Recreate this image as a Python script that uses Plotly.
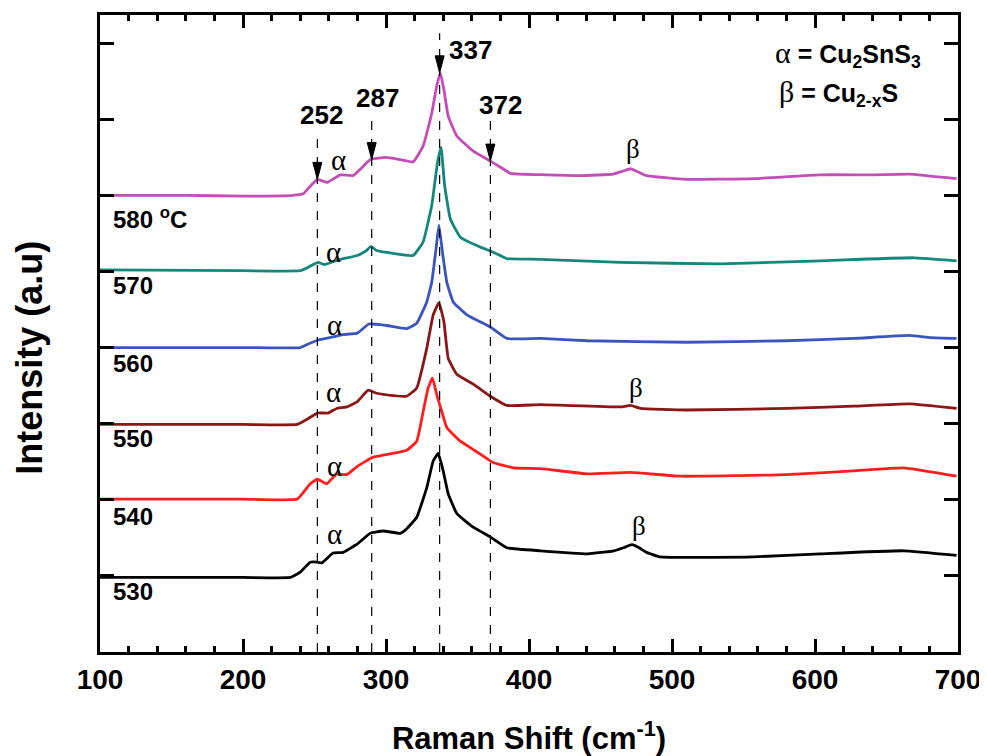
import plotly.graph_objects as go

# ---------------- data ----------------
x_530 = [100, 200, 233, 240, 247, 252, 255, 263, 270, 280, 289, 298, 310, 314.5, 321.5, 328.5, 333, 336.5, 340, 343.5,
         349.5, 361, 373, 384.5, 408, 441, 459.5, 466, 472, 477, 482, 491.5, 557, 604, 662, 699]
y_530 = [0.98, 0.98, 0.98, 1.05, 1.18, 1.18, 1.17, 1.30, 1.31, 1.42, 1.56, 1.59, 1.56, 1.62, 1.77, 2.16, 2.51, 2.61, 2.38, 2.08,
         1.82, 1.64, 1.51, 1.37, 1.33, 1.29, 1.33, 1.37, 1.41, 1.37, 1.31, 1.25, 1.25, 1.29, 1.33, 1.27]

x_540 = [100, 200, 238, 247, 252, 258.5, 265.5, 272.5, 280, 291, 307.5, 314.5, 321.5, 326, 329.5, 332.5, 335.5, 339, 342.5,
         352, 366, 375, 389, 408, 441, 471, 506, 580, 627, 662, 699]
y_540 = [2.01, 2.01, 2.01, 2.21, 2.27, 2.21, 2.34, 2.33, 2.44, 2.56, 2.62, 2.65, 2.77, 3.16, 3.47, 3.60, 3.38, 3.16, 2.95,
         2.77, 2.60, 2.49, 2.42, 2.41, 2.34, 2.36, 2.31, 2.33, 2.38, 2.42, 2.31]

x_550 = [100, 200, 238, 245, 252, 259.5, 265.5, 272.5, 280, 287.5, 293.5, 305, 314.5, 321.5, 328.5, 333, 337, 340.5, 343.5,
         349.5, 361, 373, 384.5, 408, 465, 471, 478, 510, 580, 627, 666, 699]
y_550 = [2.99, 2.99, 2.99, 3.06, 3.14, 3.14, 3.20, 3.22, 3.29, 3.44, 3.40, 3.37, 3.36, 3.47, 3.99, 4.43, 4.59, 4.34, 3.86,
         3.65, 3.52, 3.36, 3.24, 3.25, 3.22, 3.24, 3.20, 3.18, 3.20, 3.23, 3.26, 3.20]

x_560 = [100, 200, 240, 246, 252.5, 258, 270, 280, 288, 300.5, 314.5, 321.5, 328.5, 332, 335, 337, 339.5, 342.5, 347,
         356.5, 373, 384.5, 408, 441, 510, 580, 627, 666, 681, 699]
y_560 = [4.00, 4.00, 4.00, 4.05, 4.10, 4.12, 4.17, 4.19, 4.31, 4.29, 4.25, 4.32, 4.60, 4.86, 5.30, 5.61, 5.25, 4.86, 4.60,
         4.43, 4.27, 4.12, 4.12, 4.09, 4.07, 4.09, 4.12, 4.16, 4.13, 4.12]

x_570 = [100, 200, 240, 246, 252.5, 257, 268, 280, 286, 289.5, 293, 300.5, 319, 326, 332, 336, 338.5, 341, 345,
         352, 366, 373, 384.5, 408, 464, 534, 604, 669, 699]
y_570 = [5.02, 5.01, 5.01, 5.06, 5.12, 5.09, 5.16, 5.21, 5.27, 5.33, 5.28, 5.25, 5.21, 5.39, 5.87, 6.43, 6.63, 6.13, 5.69,
         5.45, 5.32, 5.27, 5.17, 5.16, 5.12, 5.10, 5.14, 5.18, 5.14]

x_580 = [100, 160, 200, 235, 242, 248, 252, 259, 268, 277, 283, 289, 300, 310, 319, 326, 332, 335.5, 338, 340.5, 343.5,
         349.5, 361, 373, 380, 387, 412, 436, 459, 466, 471, 476, 482, 510, 557, 603, 640, 666, 699]
y_580 = [6.00, 6.00, 5.99, 6.00, 6.02, 6.14, 6.21, 6.17, 6.27, 6.26, 6.36, 6.47, 6.50, 6.47, 6.44, 6.65, 7.08, 7.44, 7.61, 7.39, 7.04,
         6.78, 6.58, 6.45, 6.37, 6.29, 6.27, 6.26, 6.28, 6.32, 6.35, 6.31, 6.26, 6.21, 6.22, 6.27, 6.27, 6.28, 6.22]

series = [
    ("530", x_530, y_530, "#000000"),
    ("540", x_540, y_540, "#FF1E1E"),
    ("550", x_550, y_550, "#8B1616"),
    ("560", x_560, y_560, "#3A55C0"),
    ("570", x_570, y_570, "#14877D"),
    ("580 <sup>o</sup>C", x_580, y_580, "#C44DB8"),
]
temp_label_y = [0.80, 1.78, 2.80, 3.79, 4.82, 5.70]

# peak markers
peak_labels = ["252", "287", "337", "372"]
peak_x = [252, 290, 337.5, 373]
peak_tip_y = [6.21, 6.47, 7.61, 6.45]
peak_line_top = [6.80, 7.02, 8.13, 6.99]
peak_label_x = [255, 294, 359, 380]
peak_label_y = [7.06, 7.28, 7.91, 7.19]

alpha_x = [264, 264, 263, 264, 263, 266.5]
alpha_y = [1.55, 2.44, 3.41, 4.30, 5.25, 6.46]
beta_x = [477, 474.8, 472.7]
beta_y = [1.66, 3.47, 6.61]

x_ticks = [100, 200, 300, 400, 500, 600, 700]

SANS = "Liberation Sans, Arial, sans-serif"
SERIF = "Liberation Serif, Times New Roman, serif"

fig = go.Figure()
for name, xs, ys, col in series:
    fig.add_trace(go.Scatter(x=xs, y=ys, mode="lines", name=name,
                             line=dict(color=col, width=2.8, shape="spline", smoothing=0.35),
                             showlegend=False, hoverinfo="skip"))

annotations = []
shapes = []

# temperature labels
for (name, _, _, _), ty in zip(series, temp_label_y):
    annotations.append(dict(x=108, y=ty, xref="x", yref="y", text=name, showarrow=False,
                            xanchor="left", yanchor="middle",
                            font=dict(family=SANS, size=24, color="black", weight="bold")))

# dashed guide lines, arrowheads and labels
for lab, px_, tip, top, lx, ly in zip(peak_labels, peak_x, peak_tip_y, peak_line_top, peak_label_x, peak_label_y):
    shapes.append(dict(type="line", xref="x", yref="y", x0=px_, x1=px_, y0=0, y1=top,
                       line=dict(color="black", width=1.2, dash="dash"), layer="above"))
    shapes.append(dict(type="path", xref="x", yref="y", xsizemode="pixel", ysizemode="pixel",
                       xanchor=px_, yanchor=tip, path="M0,0 L-4.5,17 L4.5,17 Z",
                       fillcolor="black", line=dict(color="black", width=1), layer="above"))
    annotations.append(dict(x=lx, y=ly, xref="x", yref="y", text=lab, showarrow=False,
                            xanchor="center", yanchor="middle",
                            font=dict(family=SANS, size=26, color="black", weight="bold")))

for ax_, ay_ in zip(alpha_x, alpha_y):
    annotations.append(dict(x=ax_, y=ay_, xref="x", yref="y", text="α", showarrow=False,
                            font=dict(family=SERIF, size=29, color="black")))
for bx_, by_ in zip(beta_x, beta_y):
    annotations.append(dict(x=bx_, y=by_, xref="x", yref="y", text="β", showarrow=False,
                            font=dict(family=SERIF, size=27, color="black")))

# phase key
annotations.append(dict(x=0.784, y=0.938, xref="paper", yref="paper", xanchor="left", yanchor="middle",
                        showarrow=False,
                        text='<span style="font-family:Liberation Serif;font-weight:normal;font-size:30px">α</span> = Cu<sub>2</sub>SnS<sub>3</sub>',
                        font=dict(family=SANS, size=25, color="black", weight="bold")))
annotations.append(dict(x=0.789, y=0.878, xref="paper", yref="paper", xanchor="left", yanchor="middle",
                        showarrow=False,
                        text='<span style="font-family:Liberation Serif;font-weight:normal;font-size:30px">β</span> = Cu<sub>2-x</sub>S',
                        font=dict(family=SANS, size=25, color="black", weight="bold")))

# y axis title
annotations.append(dict(x=-0.0816, y=0.462, xref="paper", yref="paper", showarrow=False,
                        xanchor="center", yanchor="middle",
                        text="Intensity (a.u)", textangle=-90,
                        font=dict(family=SANS, size=36, color="black", weight="bold")))

# page body has an 8 px margin: shrink the figure and its margins by 8 px
fig.update_layout(
    width=979, height=748,
    margin=dict(l=92, r=29, t=4, b=104),
    paper_bgcolor="white", plot_bgcolor="white",
    annotations=annotations, shapes=shapes,
    xaxis=dict(range=[100, 700], tickvals=x_ticks, ticktext=[str(v) for v in x_ticks],
               ticks="inside", ticklen=13, tickwidth=3, tickcolor="black",
               minor=dict(dtick=20, tick0=100, ticks="inside", ticklen=6, tickwidth=2.5, tickcolor="black"),
               showline=True, linewidth=3, linecolor="black", mirror="ticks",
               showgrid=False, zeroline=False,
               tickfont=dict(family=SANS, size=28, color="black", weight="bold"),
               title=dict(text="Raman Shift (cm<sup>-1</sup>)", standoff=36,
                          font=dict(family=SANS, size=31, color="black", weight="bold"))),
    yaxis=dict(range=[0, 8.37], dtick=1, tick0=0, ticks="inside", ticklen=14, tickwidth=3, tickcolor="black",
               showticklabels=False, showline=True, linewidth=3, linecolor="black", mirror="ticks",
               showgrid=False, zeroline=False),
)

fig.write_html("out.html")
